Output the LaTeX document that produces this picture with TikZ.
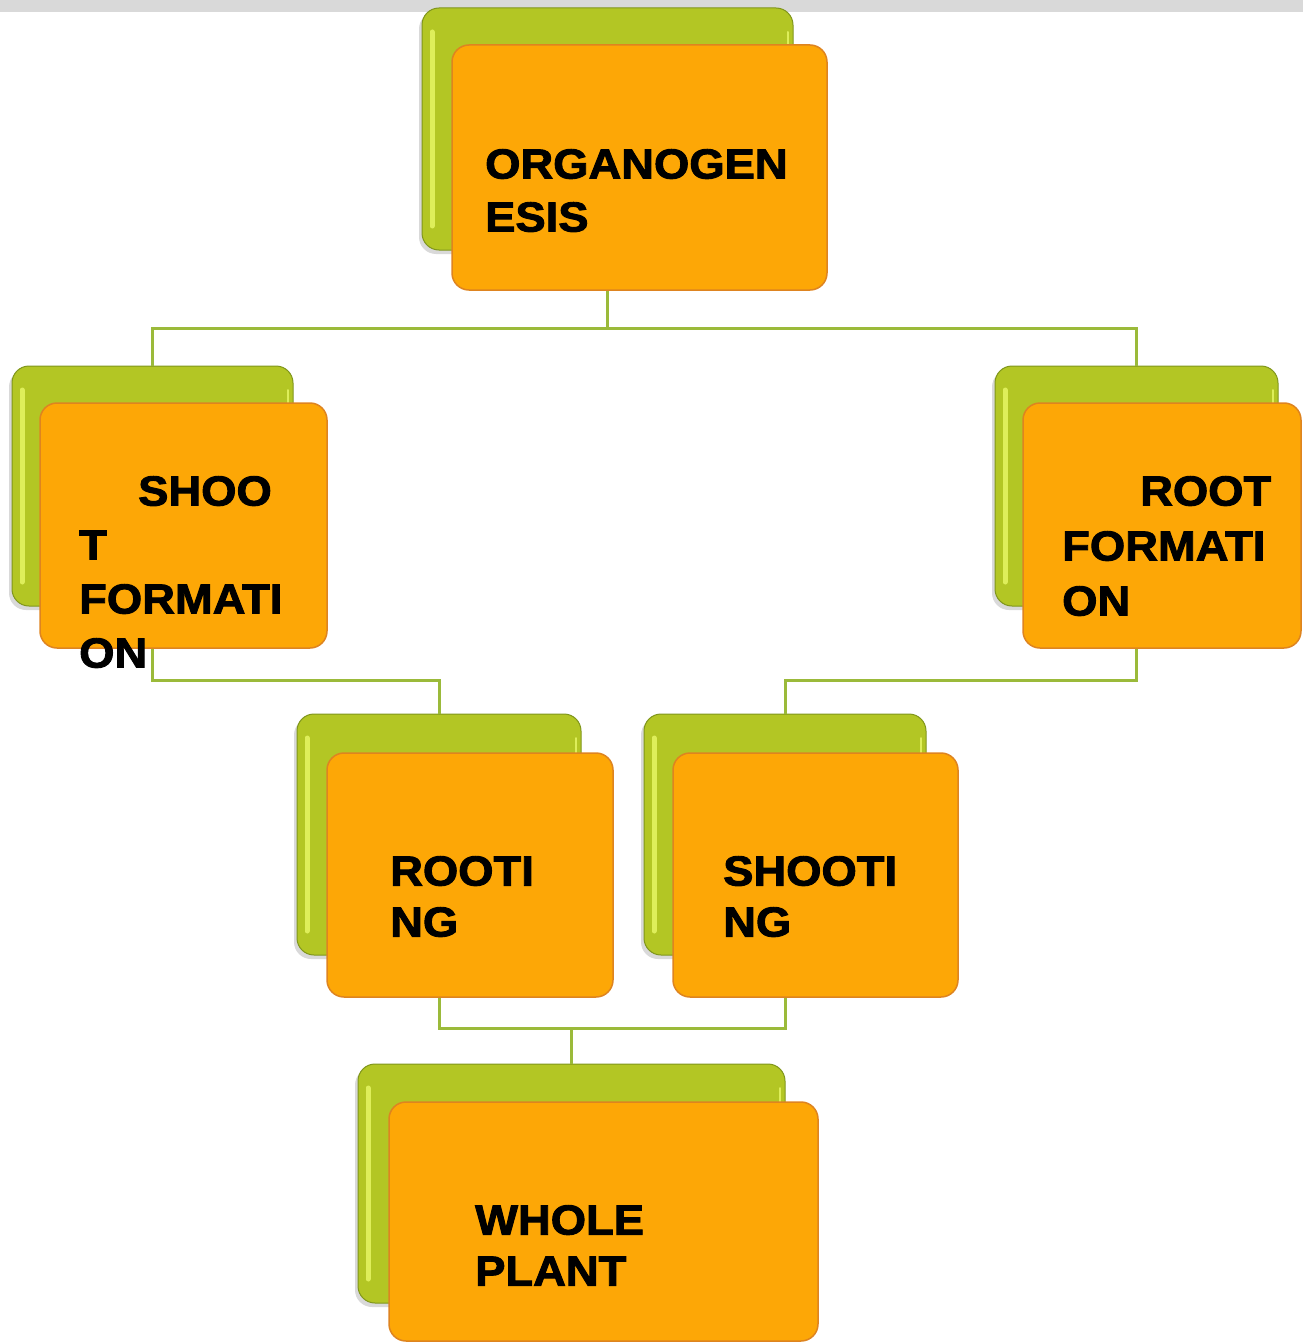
\documentclass[tikz,border=0pt]{standalone}
\usepackage{fontspec}
\usetikzlibrary{shadows}
\newfontfamily\boxfont{Liberation Sans}[FakeStretch=1.08, BoldFeatures={FakeBold=2.2}]
\definecolor{leaf}{RGB}{179,198,36}
\definecolor{leafdark}{RGB}{128,150,28}
\definecolor{leafhi}{RGB}{222,238,90}
\definecolor{peel}{RGB}{253,167,6}
\definecolor{peeldark}{RGB}{222,132,32}
\definecolor{stem}{RGB}{155,186,58}
\definecolor{topbar}{RGB}{217,217,217}
\begin{document}
\begin{tikzpicture}[x=1pt,y=-1pt,
    back/.style={draw=leafdark, line width=1pt, fill=leaf, rounded corners=17,
        drop shadow={shadow xshift=-3pt, shadow yshift=-4pt, opacity=0.3},
        path picture={
            \draw[leafhi, line width=5pt, line cap=round]
                ([xshift=10pt,yshift=-24pt]path picture bounding box.north west) --
                ([xshift=10pt,yshift=24pt]path picture bounding box.south west);
            \draw[leafhi, line width=2pt, line cap=round]
                ([xshift=-5pt,yshift=-24pt]path picture bounding box.north east) --
                ([xshift=-5pt,yshift=24pt]path picture bounding box.south east);}},
    front/.style={draw=peeldark, line width=1.5pt, fill=peel, rounded corners=17},
    caption/.style={anchor=north west, inner sep=0, align=left,
        font=\boxfont\bfseries\fontsize{42}{53}\selectfont},
    link/.style={stem, line width=3pt}]
    \useasboundingbox (0,0) rectangle (1303,1343);
    \fill[topbar] (0,0) rectangle (1303,12);

    % back (green) and front (orange) cards
    \node[back, minimum width=371, minimum height=242] (orgB) at (607.5,129) {};
    \node[front, minimum width=375, minimum height=245] (org) at (639.5,167.5) {};
    \node[back, minimum width=281, minimum height=240] (shootB) at (152.5,486) {};
    \node[front, minimum width=287, minimum height=245] (shoot) at (183.5,525.5) {};
    \node[back, minimum width=283, minimum height=240] (rootB) at (1136.5,486) {};
    \node[front, minimum width=278, minimum height=245] (root) at (1162,525.5) {};
    \node[back, minimum width=284, minimum height=241] (rootingB) at (439,834.5) {};
    \node[front, minimum width=286, minimum height=244] (rooting) at (470,875) {};
    \node[back, minimum width=282, minimum height=241] (shootingB) at (785,834.5) {};
    \node[front, minimum width=285, minimum height=244] (shooting) at (815.5,875) {};
    \node[back, minimum width=427, minimum height=239] (wholeB) at (571.5,1183.5) {};
    \node[front, minimum width=429, minimum height=239] (whole) at (603.5,1221.5) {};

    % labels
    \node[caption] (orgT) at (485,149) {ORGANOGEN\\ESIS};
    \node[caption, font=\boxfont\bfseries\fontsize{42}{54}\selectfont] (shootT) at (79,476)
        {\hspace*{59pt}SHOO\\T\\FORMATI\\ON};
    \node[caption, font=\boxfont\bfseries\fontsize{42}{55}\selectfont] (rootT) at (1062,476)
        {\hspace*{78pt}ROOT\\FORMATI\\ON};
    \node[caption, font=\boxfont\bfseries\fontsize{42}{51}\selectfont] (rootingT) at (390,856) {ROOTI\\NG};
    \node[caption, font=\boxfont\bfseries\fontsize{42}{51}\selectfont] (shootingT) at (723,856) {SHOOTI\\NG};
    \node[caption, font=\boxfont\bfseries\fontsize{42}{51}\selectfont] (wholeT) at (475,1205) {WHOLE\\PLANT};

    % connectors
    \draw[link] (org.south -| orgB) -- ++(0,38) -| (shootB.north);
    \draw[link] (org.south -| orgB) -- ++(0,38) -| (rootB.north);
    \draw[link] (shoot.south -| shootB) -- ++(0,32) -| (rootingB.north);
    \draw[link] (root.south -| rootB) -- ++(0,32) -| (shootingB.north);
    \draw[link] (rooting.south -| rootingB) -- ++(0,31) -| (wholeB.north);
    \draw[link] (shooting.south -| shootingB) -- ++(0,31) -| (wholeB.north);
\end{tikzpicture}
\end{document}
